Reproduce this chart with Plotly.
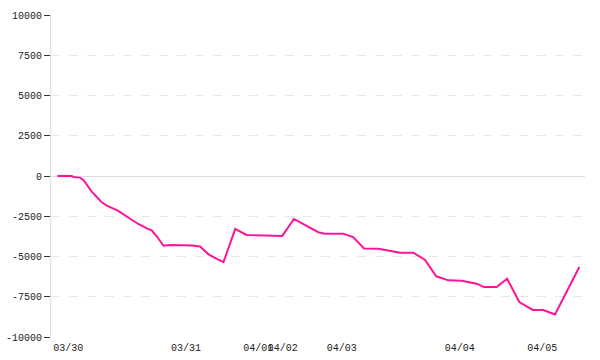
import plotly.graph_objects as go

# sample index (position along the category-like axis) and cumulative value
sample_idx = [0, 3.3, 3.7, 5.2, 6.0, 7.9, 10.2, 11.4, 14.0, 16.7, 18.6, 20.6, 21.7,
              22.9, 24.4, 25.9, 31.1, 32.8, 34.7, 35.9, 38.2, 40.9, 43.5, 47.7, 51.7,
              54.4, 57.3, 60.0, 61.5, 65.7, 68.0, 70.5, 73.8, 75.7, 78.8, 81.8, 83.4,
              84.5, 87.1, 89.9, 93.0, 96.4, 98.1, 101.0, 103.4, 106.2, 109.3, 111.7,
              114.4, 120.0]
values = [0, 0, -60, -100, -250, -970, -1630, -1840, -2170, -2620, -2980, -3250, -3370,
          -3760, -4330, -4290, -4310, -4380, -4850, -5040, -5350, -3290, -3660, -3700,
          -3720, -2670, -3080, -3490, -3580, -3580, -3800, -4500, -4520, -4620, -4760,
          -4760, -5010, -5200, -6230, -6480, -6500, -6690, -6900, -6900, -6380, -7830,
          -8320, -8320, -8600, -5650]

tick_pos = [2.5, 29.6, 46.2, 51.8, 65.4, 92.5, 111.5]
tick_labels = ["03/30", "03/31", "04/01", "04/02", "04/03", "04/04", "04/05"]

y_ticks = [10000, 7500, 5000, 2500, 0, -2500, -5000, -7500, -10000]

fig = go.Figure()
fig.add_trace(go.Scatter(
    x=sample_idx, y=values, mode="lines",
    line=dict(color="#FF1493", width=2),
    hoverinfo="skip", showlegend=False,
))

font = dict(family="Liberation Mono, DejaVu Sans Mono, monospace", size=10, color="#222")

fig.update_layout(
    width=600, height=360,
    margin=dict(l=51, r=15, t=15, b=23),
    paper_bgcolor="white", plot_bgcolor="white",
    font=font,
    xaxis=dict(
        range=[-1.45, 121.3],
        tickmode="array", tickvals=tick_pos, ticktext=tick_labels,
        showgrid=False, zeroline=False, showline=False,
        ticks="", tickfont=font, tickangle=0, automargin=False,
        ticklabelstandoff=3,
    ),
    yaxis=dict(
        range=[-10000, 10000],
        tickmode="array", tickvals=y_ticks,
        ticktext=[str(v) for v in y_ticks],
        showgrid=True, gridcolor="#e8e8e8", griddash="dash", gridwidth=1,
        zeroline=True, zerolinecolor="#dddddd", zerolinewidth=1,
        showline=True, linecolor="#dddddd", linewidth=1,
        ticks="outside", ticklen=6, tickcolor="#333", tickwidth=1,
        tickfont=font, automargin=False, ticklabelstandoff=0,
    ),
)

fig.write_html("out.html")
